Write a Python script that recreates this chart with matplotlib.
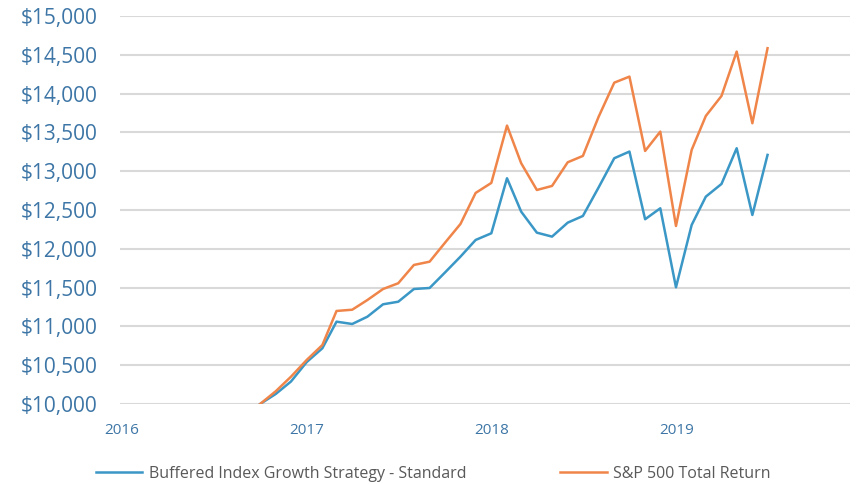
import matplotlib
matplotlib.use("Agg")
import matplotlib.pyplot as plt
import matplotlib.dates as mdates
from matplotlib.ticker import FuncFormatter
import pandas as pd

plt.rcParams['font.family'] = ['Open Sans', 'DejaVu Sans']

start_month = "2016-09-30"
n_points = 34

buffered = [10000, 10130, 10290, 10540, 10718, 11061, 11031, 11125, 11285, 11318,
            11482, 11495, 11692, 11899, 12114, 12200, 12909, 12479, 12208, 12157,
            12337, 12423, 12790, 13167, 13253, 12381, 12522, 11504, 12307, 12672,
            12836, 13296, 12436, 13210]
sp500 = [10000, 10165, 10352, 10567, 10760, 11199, 11215, 11340, 11482, 11556,
         11792, 11834, 12075, 12320, 12720, 12849, 13588, 13103, 12758, 12810,
         13115, 13197, 13700, 14141, 14219, 13261, 13510, 12294, 13274, 13712,
         13970, 14541, 13618, 14585]

series_names = ["Buffered Index Growth Strategy - Standard", "S&P 500 Total Return"]
series_colors = ["#3a97c6", "#f0854a"]
y_ticks = list(range(10000, 15001, 500))

dates = pd.date_range(start_month, periods=n_points, freq="ME")

fig = plt.figure(figsize=(8.6, 4.84), dpi=100)
ax = fig.add_axes([120/860, 1 - 404/484, 730/860, 388/484])

h1, = ax.plot(dates, buffered, color=series_colors[0], lw=1.8, zorder=3)
h2, = ax.plot(dates, sp500, color=series_colors[1], lw=1.8, zorder=3)

ax.set_ylim(10000, 15000)
ax.set_yticks(y_ticks)
ax.yaxis.set_major_formatter(FuncFormatter(lambda v, p: f"${v:,.0f}"))
ax.set_xlim(pd.Timestamp("2015-12-28"), pd.Timestamp("2019-12-10"))
ax.xaxis.set_major_locator(mdates.YearLocator())
ax.xaxis.set_major_formatter(mdates.DateFormatter("%Y"))

ax.grid(axis="y", color="#d9d9d9", lw=1.5, zorder=0)
ax.grid(axis="x", visible=False)
for s in ax.spines.values():
    s.set_visible(False)
ax.tick_params(axis="y", length=0, pad=16, labelsize=15, labelcolor="#3d76a6")
ax.tick_params(axis="x", length=0, pad=14, labelsize=11, labelcolor="#3d76a6")

fig.legend([h1, h2], series_names, loc="center left",
           bbox_to_anchor=(96/860, 1 - 474/484), ncol=2, frameon=False,
           handlelength=2.9, handletextpad=0.4, columnspacing=5.9,
           borderpad=0, borderaxespad=0, fontsize=11.5, labelcolor="#595959")

fig.savefig("out.png", dpi=100)
